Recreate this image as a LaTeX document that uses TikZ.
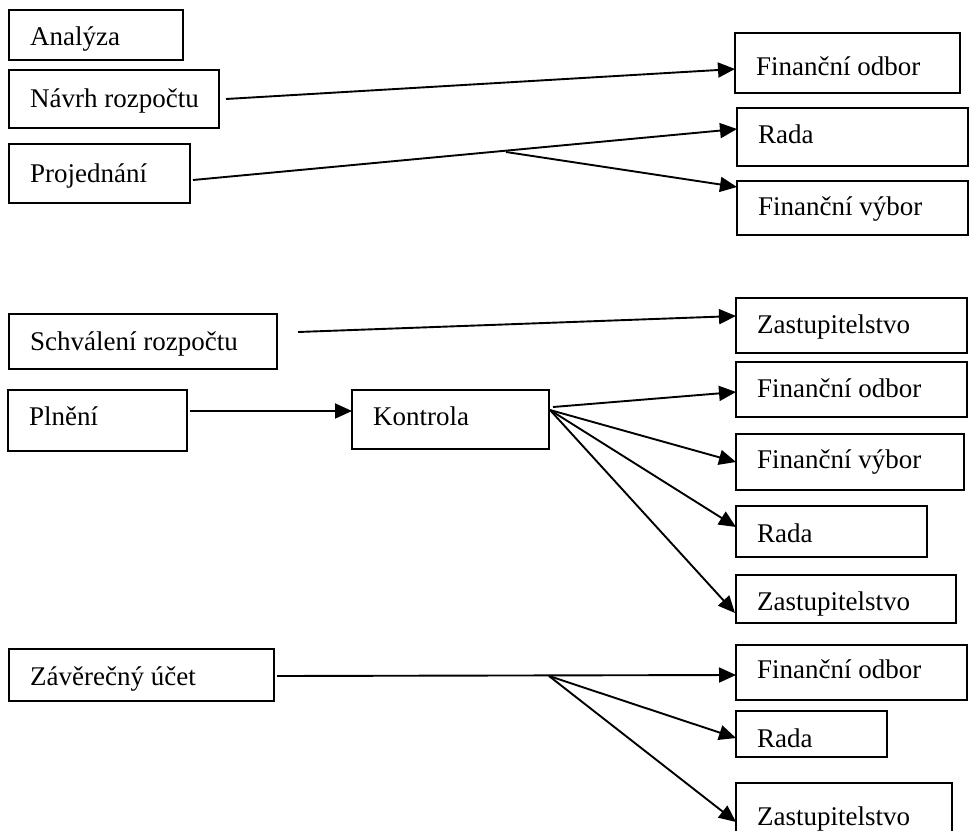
\documentclass[tikz,border=0pt]{standalone}
\usepackage{fontspec}
\setmainfont{Liberation Serif}
\usetikzlibrary{arrows.meta}

% box: frame drawn from its corners, text set from the left edge on a given baseline
\newcommand\mkbox[7]{%
  \node[frame, minimum width={#4-#2}, minimum height={#5-#3}] (#1) at ({(#2+#4)/2},{(#3+#5)/2}) {};
  \node[lbl] (#1-t) at ({#2+21},#6) {#7};}

\begin{document}
\begin{tikzpicture}[x=1pt, y=-1pt,
  frame/.style={draw, line width=2pt, inner sep=0pt, outer sep=0pt},
  lbl/.style={anchor=base west, inner sep=0pt, font=\fontsize{27}{32}\selectfont},
  conn/.style={line width=1.9pt, -{Triangle[length=17pt, width=15pt]}}]

\fill[white] (0,0) rectangle (969,830);
\useasboundingbox (0,0) rectangle (969,830);

% left column
\mkbox{analyza}{9}{10}{183}{60}{45}{Analýza}
\mkbox{navrh}{9}{70}{219}{128}{107}{Návrh rozpočtu}
\mkbox{proj}{9}{144}{190}{203}{182}{Projednání}
\mkbox{schv}{9}{314}{277}{369}{350}{Schválení rozpočtu}
\mkbox{pln}{8}{390}{187}{451}{425}{Plnění}
\mkbox{kon}{352}{390}{549}{449}{425}{Kontrola}
\mkbox{zav}{9}{649}{274}{701}{685}{Závěrečný účet}

% right column
\mkbox{fo1}{735}{33}{960}{93}{75}{Finanční odbor}
\mkbox{rada1}{737}{108}{968}{166}{143}{Rada}
\mkbox{fv1}{737}{181}{968}{235}{215}{Finanční výbor}
\mkbox{z1}{736}{298}{967}{353}{333}{Zastupitelstvo}
\mkbox{fo2}{736}{362}{967}{417}{397}{Finanční odbor}
\mkbox{fv2}{736}{434}{964}{490}{468}{Finanční výbor}
\mkbox{rada2}{736}{506}{927}{557}{542}{Rada}
\mkbox{z2}{736}{575}{956}{623}{610}{Zastupitelstvo}
\mkbox{fo3}{736}{645}{967}{700}{678}{Finanční odbor}
\mkbox{rada3}{736}{711}{887}{757}{747}{Rada}
\mkbox{z3}{736}{783}{952}{845}{825}{Zastupitelstvo}

% branch points
\coordinate (b1) at (506,152);
\coordinate (b2) at (549,676);

% connectors
\draw[conn] ([shift={(7,0)}]navrh.east) -- ([shift={(0,6)}]fo1.west);
\draw[conn] ([shift={(3,6.5)}]proj.east) -- ([shift={(0,-8)}]rada1.west);
\draw[conn] (b1) -- ([shift={(0,-21)}]fv1.west);
\draw[conn] ([shift={(21,-9.5)}]schv.east) -- ([shift={(0,-9.5)}]z1.west);
\draw[conn] ([shift={(3,-9.5)}]pln.east) -- ([shift={(0,-8.5)}]kon.west);
\draw[conn] ([shift={(4,-12.5)}]kon.east) -- ([shift={(0,2.5)}]fo2.west);
\draw[conn] ([shift={(1,-9.5)}]kon.east) -- (fv2.west);
\draw[conn] ([shift={(1,-9.5)}]kon.east) -- ([shift={(0,-4.5)}]rada2.west);
\draw[conn] ([shift={(1,-9.5)}]kon.east) -- ([shift={(-1,14)}]z2.west);
\draw[conn] ([shift={(3,1)}]zav.east) -- ([shift={(0,2.5)}]fo3.west);
\draw[conn] (b2) -- ([shift={(0,4)}]rada3.west);
\draw[conn] (b2) -- ([shift={(0,8)}]z3.west);
\end{tikzpicture}
\end{document}
